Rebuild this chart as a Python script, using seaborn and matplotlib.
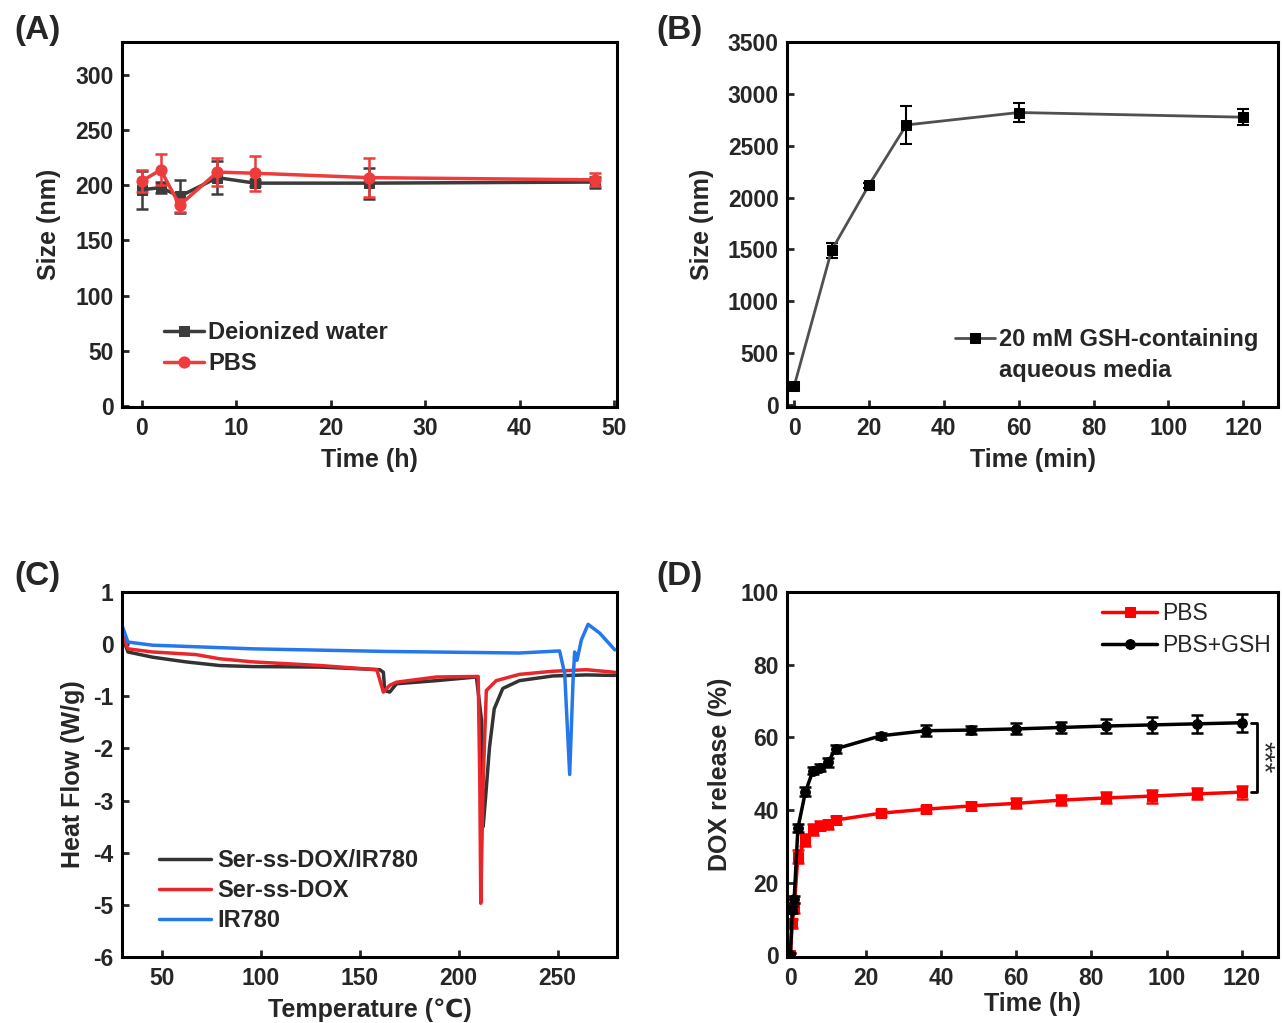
import numpy as np
import pandas as pd
import matplotlib
matplotlib.use("Agg")
import matplotlib.pyplot as plt
from matplotlib.lines import Line2D
import seaborn as sns

# ---- (A) size stability ----
time_a = [0, 2, 4, 8, 12, 24, 48]
water_size = [196, 198, 190, 207, 202, 202, 203]
water_err = [17, 5, 15, 15, 3, 14, 5]
pbs_size = [204, 214, 182, 212, 211, 207, 205]
pbs_err = [10, 14, 6, 13, 16, 18, 6]

# ---- (B) size in GSH ----
time_b = [0, 10, 20, 30, 60, 120]
gsh_size = [180, 1490, 2120, 2700, 2820, 2775]
gsh_err = [20, 75, 25, 185, 90, 80]

# ---- (C) DSC ----
temp_blk = [30.3, 33, 45.4, 62.3, 79.2, 96, 130, 160.2, 162, 162.7, 165.2, 168.6, 188.8, 209,
            211.6, 212.4, 213.5, 215.6, 218, 222.3, 230.7, 247.6, 264.5, 278.9]
flow_blk = [0.14, -0.15, -0.25, -0.34, -0.41, -0.43, -0.44, -0.49, -0.54, -0.89, -0.92, -0.76, -0.70, -0.63,
            -1.47, -3.5, -3.0, -1.98, -1.24, -0.85, -0.70, -0.61, -0.59, -0.60]
temp_red = [30.3, 33, 45.4, 67.3, 79.2, 96, 130, 158.7, 160.3, 162, 165.2, 168.6, 188.8, 209.9,
            210.7, 211.2, 212.4, 214, 219, 230.7, 247.6, 264.5, 278.9]
flow_red = [0.17, -0.09, -0.15, -0.20, -0.28, -0.34, -0.41, -0.49, -0.70, -0.92, -0.79, -0.73, -0.63, -0.62,
            -2.63, -4.97, -2.63, -0.89, -0.70, -0.58, -0.52, -0.49, -0.54]
temp_blue = [30.3, 33, 45.4, 96, 163.5, 230.7, 251, 253.6, 256.1, 257.8, 258.6, 259.8, 262, 265.4, 271.3, 278.9]
flow_blue = [0.33, 0.04, -0.02, -0.09, -0.14, -0.17, -0.13, -0.57, -2.50, -0.70, -0.15, -0.31, 0.08, 0.38, 0.21, -0.11]

# ---- (D) DOX release ----
time_d = [0, 0.5, 1, 2, 4, 6, 8, 10, 12, 24, 36, 48, 60, 72, 84, 96, 108, 120]
rel_pbs = [0, 8.8, 13, 27.1, 31.7, 34.5, 35.7, 36.0, 37.2, 39.1, 40.2, 41.1, 41.8, 42.7, 43.3, 43.8, 44.4, 44.9]
err_pbs = [0.5, 1.2, 1.5, 1.8, 1.6, 1.5, 1.2, 1.2, 1.0, 0.8, 1.0, 1.0, 1.4, 1.4, 1.5, 1.8, 1.5, 1.8]
rel_gsh = [0, 12.5, 15.4, 35.0, 45.0, 50.8, 51.6, 53.1, 56.8, 60.4, 61.8, 62.0, 62.3, 62.7, 63.1, 63.4, 63.7, 64.0]
err_gsh = [0.5, 1.0, 1.0, 1.0, 1.2, 1.0, 1.0, 1.2, 1.0, 0.8, 1.5, 1.2, 1.5, 1.5, 2.0, 2.3, 2.5, 2.5]

sns.set_theme(style="ticks")
plt.rcParams["font.family"] = ["Liberation Sans", "DejaVu Sans"]
plt.rcParams["font.weight"] = "bold"
plt.rcParams["axes.labelweight"] = "bold"
plt.rcParams["axes.unicode_minus"] = False
plt.rcParams["axes.linewidth"] = 2.2
plt.rcParams["xtick.direction"] = "in"
plt.rcParams["ytick.direction"] = "in"
plt.rcParams["xtick.major.width"] = 2.0
plt.rcParams["ytick.major.width"] = 2.0
plt.rcParams["xtick.major.size"] = 5
plt.rcParams["ytick.major.size"] = 5
plt.rcParams["xtick.major.pad"] = 7
plt.rcParams["ytick.major.pad"] = 6
plt.rcParams["xtick.labelsize"] = 16.5
plt.rcParams["ytick.labelsize"] = 16.5
plt.rcParams["axes.labelsize"] = 18
plt.rcParams["axes.labelpad"] = 6

fig = plt.figure(figsize=(12.82, 10.23), dpi=100)
W, H = 1282, 1023


def make_ax(l, t, r, b):
    return fig.add_axes([l / W, 1 - b / H, (r - l) / W, (b - t) / H])


axA = make_ax(122, 42, 617, 407)
axB = make_ax(787, 42, 1278, 407)
axC = make_ax(122, 592, 617, 957)
axD = make_ax(787, 592, 1278, 957)

# (A)
gray = "#3c3c3c"
redA = "#ee3b3b"
axA.errorbar(time_a, water_size, yerr=water_err, fmt="none", ecolor=gray, elinewidth=1.8, capsize=4.5, capthick=1.8)
sns.lineplot(x=time_a, y=water_size, ax=axA, color=gray, marker="s", markersize=7, linewidth=2.5,
             markeredgecolor=gray, label="Deionized water", estimator=None)
axA.errorbar(time_a, pbs_size, yerr=pbs_err, fmt="none", ecolor=redA, elinewidth=1.8, capsize=4.5, capthick=1.8)
sns.lineplot(x=time_a, y=pbs_size, ax=axA, color=redA, marker="o", markersize=8, linewidth=2.5,
             markeredgecolor=redA, label="PBS", estimator=None)
axA.set_xlim(-2.1, 50.3)
axA.set_ylim(-1, 330)
axA.set_xticks([0, 10, 20, 30, 40, 50])
axA.set_yticks([0, 50, 100, 150, 200, 250, 300])
axA.set_xlabel("Time (h)")
axA.set_ylabel("Size (nm)", labelpad=10)
axA.legend(loc="lower left", bbox_to_anchor=(0.06, 0.055), frameon=False, fontsize=17,
           handlelength=1.7, handletextpad=0.2, labelspacing=0.35, borderpad=0)

# (B)
axB.errorbar(time_b, gsh_size, yerr=gsh_err, fmt="none", ecolor="black", elinewidth=1.5, capsize=4.5, capthick=1.5)
sns.lineplot(x=time_b, y=gsh_size, ax=axB, color="#505050", marker="s", markersize=7, linewidth=2,
             markerfacecolor="black", markeredgecolor="black",
             label="20 mM GSH-containing", estimator=None)
hB, lB = axB.get_legend_handles_labels()
hB.append(Line2D([], [], color="none"))
lB.append("aqueous media")
axB.set_xlim(-1.9, 129.3)
axB.set_ylim(-20, 3500)
axB.set_xticks(range(0, 121, 20))
axB.set_yticks(range(0, 3501, 500))
axB.set_xlabel("Time (min)")
axB.set_ylabel("Size (nm)", labelpad=10)
axB.legend(hB, lB, loc="lower right", bbox_to_anchor=(0.985, 0.035), frameon=False, fontsize=17,
           handlelength=1.7, handletextpad=0.2, labelspacing=0.35, borderpad=0)

# (C)
sns.lineplot(x=temp_blk, y=flow_blk, ax=axC, color="#333333", linewidth=2.5, label="Ser-ss-DOX/IR780",
             estimator=None, sort=False)
sns.lineplot(x=temp_red, y=flow_red, ax=axC, color="#e8262b", linewidth=2.5, label="Ser-ss-DOX",
             estimator=None, sort=False)
sns.lineplot(x=temp_blue, y=flow_blue, ax=axC, color="#2478ee", linewidth=2.5, label="IR780",
             estimator=None, sort=False)
axC.set_xlim(30, 280)
axC.set_ylim(-6, 1)
axC.set_xticks([50, 100, 150, 200, 250])
axC.set_yticks(range(-6, 2))
axC.set_xlabel("Temperature (\u2103)")
axC.set_ylabel("Heat Flow (W/g)")
axC.legend(loc="lower left", bbox_to_anchor=(0.05, 0.035), frameon=False, fontsize=17,
           handlelength=2.2, handletextpad=0.3, labelspacing=0.3, borderpad=0)

# (D)
axD.errorbar(time_d, rel_pbs, yerr=err_pbs, fmt="none", ecolor="#ff0000", elinewidth=1.8, capsize=4.5, capthick=1.8)
sns.lineplot(x=time_d, y=rel_pbs, ax=axD, color="#ff0000", marker="s", markersize=7, linewidth=2.5,
             markeredgecolor="#ff0000", label="PBS", estimator=None)
axD.errorbar(time_d, rel_gsh, yerr=err_gsh, fmt="none", ecolor="black", elinewidth=1.8, capsize=4.5, capthick=1.8)
sns.lineplot(x=time_d, y=rel_gsh, ax=axD, color="black", marker="o", markersize=7, linewidth=2.5,
             markeredgecolor="black", label="PBS+GSH", estimator=None)
axD.plot([122.3, 124, 124, 122.3], [rel_gsh[-1], rel_gsh[-1], rel_pbs[-1], rel_pbs[-1]], color="black", lw=2)
axD.text(125.4, (rel_gsh[-1] + rel_pbs[-1]) / 2, "***", rotation=270, ha="center", va="center",
         fontsize=20, color="#2a2a2a", fontweight="normal")
axD.set_xlim(-0.9, 129.6)
axD.set_ylim(-0.5, 100)
axD.set_xticks(range(0, 121, 20))
axD.set_yticks(range(0, 101, 20))
axD.set_xlabel("Time (h)", labelpad=2)
axD.set_ylabel("DOX release (%)")
axD.legend(loc="upper right", bbox_to_anchor=(1.008, 1.005), frameon=False, prop={"size": 16.5, "weight": "normal"},
           handlelength=2.4, handletextpad=0.2, labelspacing=0.42, borderpad=0)

for ax in (axA, axB, axC, axD):
    for s in ax.spines.values():
        s.set_visible(True)
        s.set_color("black")
    ax.tick_params(top=False, right=False)

for x, y, lab in [(37, 31, "(A)"), (680, 31, "(B)"), (37, 576, "(C)"), (680, 576, "(D)")]:
    fig.text(x / W, 1 - y / H, lab, fontsize=24, fontweight="bold", ha="center", va="center")

fig.savefig("out.png", dpi=100)
